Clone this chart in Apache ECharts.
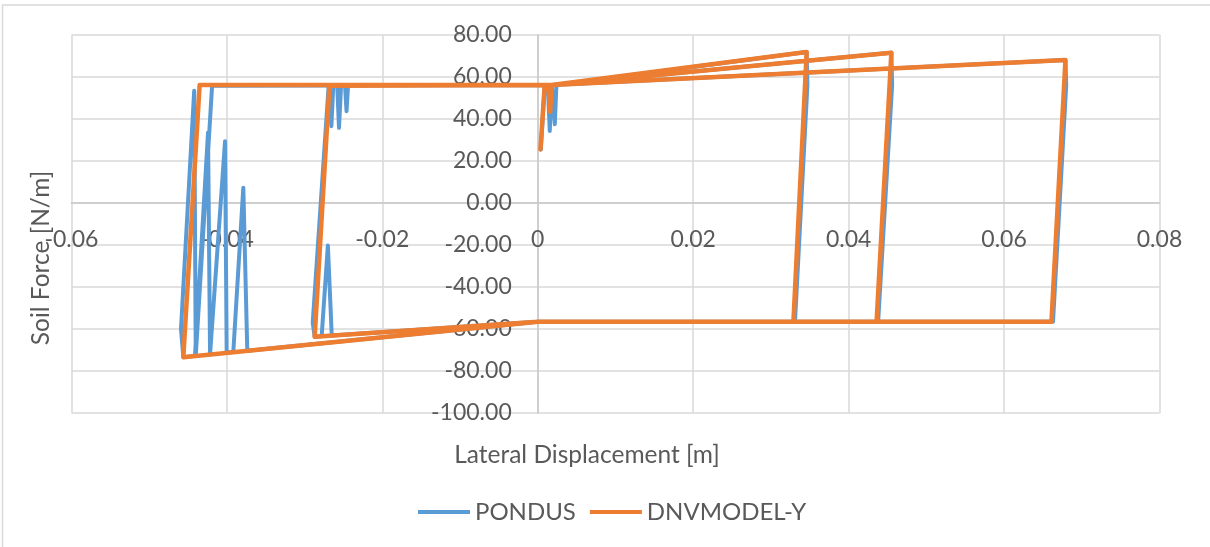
<!DOCTYPE html>
<html>
<head>
<meta charset="utf-8">
<script src="https://cdn.jsdelivr.net/npm/echarts@6.0.0/dist/echarts.min.js"></script>
<style>
    html, body { margin: 0; padding: 0; background: #fff; }
    #chart { width: 1210px; height: 547px; }
</style>
</head>
<body>
<div id="chart"></div>
<script>
    // PONDUS path (lateral displacement [m], soil force [N/m])
    var pondusX = [0.0004, 0.0009, 0.0013, 0.00155, 0.0018, 0.0020, 0.0022, 0.0024, 0.0346, 0.0347, 0.0331, 0.0000,
        -0.0265, -0.0270, -0.0278, -0.0287, -0.02895, -0.0269, -0.0268, -0.02655, -0.0263, -0.0258, -0.02557, -0.0253,
        -0.0248, -0.0246, -0.0244, 0.0018, 0.0455, 0.0456, 0.0438, 0.0000,
        -0.03737, -0.03788, -0.03917, -0.04002, -0.04023, -0.04216, -0.04242, -0.0441, -0.0456, -0.0459, -0.0442,
        -0.0440, -0.0419, -0.0417, 0.0018, 0.0679, 0.0680, 0.0663, 0.0000];
    var pondusF = [25.5, 56.2, 56.2, 34.3, 56.2, 56.2, 37.5, 56.2, 71.9, 56.2, -56.5, -56.5,
        -63.15, -20.2, -63.45, -63.7, -57.0, 56.0, 56.2, 36.6, 56.2, 56.2, 35.8, 56.2,
        56.2, 43.7, 56.2, 56.2, 71.6, 56.2, -56.5, -56.5,
        -70.35, 7.3, -71.0, -71.3, 29.4, -72.1, 33.6, -72.8, -73.4, -60.0, 53.5,
        -72.8, 55.8, 56.2, 56.2, 68.1, 56.2, -56.5, -56.5];

    // DNVMODEL-Y path
    var dnvX = [0.00035, 0.0009, 0.0014, 0.0016, 0.0018, 0.0346, 0.0329, 0.0000, -0.0287, -0.0268, 0.0018,
        0.0455, 0.0436, 0.0000, -0.0456, -0.0435, 0.0018, 0.0679, 0.0661, 0.0000];
    var dnvF = [25.5, 56.2, 56.2, 43.4, 56.2, 71.9, -56.5, -56.5, -63.7, 55.8, 56.2,
        71.6, -56.5, -56.5, -73.4, 56.2, 56.2, 68.1, -56.5, -56.5];

    var seriesNames = ['PONDUS', 'DNVMODEL-Y'];

    function pairs(xs, ys) {
        return xs.map(function (x, i) { return [x, ys[i]]; });
    }

    var font = 'Lato';
    var textColor = '#595959';
    var chart = echarts.init(document.getElementById('chart'), null, {renderer: 'canvas'});

    // plot box in pixels; axes are shifted onto the zero lines with offset
    var plotLeft = 71.4, plotRight = 1159.5, plotTop = 35, plotBottom = 413;
    var zeroX = plotLeft + (plotRight - plotLeft) * 0.06 / 0.14;
    var zeroY = plotTop + (plotBottom - plotTop) * 80 / 180;

    var option = {
        animation: false,
        color: ['#5b9bd5', '#ed7d31'],
        grid: {
            left: plotLeft,
            right: 1210 - plotRight,
            top: plotTop,
            bottom: 547 - plotBottom,
            outerBoundsMode: 'none',
            containLabel: false
        },
        legend: {
            data: seriesNames,
            left: 413,
            top: 495,
            icon: 'rect',
            itemWidth: 52,
            itemHeight: 4,
            itemGap: 14,
            textStyle: { fontFamily: font, fontSize: 24, color: textColor }
        },
        graphic: [
            {
                type: 'rect',
                shape: { x: 2.5, y: 5, width: 1300, height: 600 },
                style: { fill: 'none', stroke: '#d9d9d9', lineWidth: 1.5 },
                silent: true
            },
            {
                type: 'text',
                x: 41, y: 258,
                rotation: Math.PI / 2,
                style: {
                    text: 'Soil Force [N/m]',
                    fontFamily: font, fontSize: 24.5, fill: textColor,
                    align: 'center', verticalAlign: 'middle'
                }
            },
            {
                type: 'text',
                x: 587, y: 455,
                style: {
                    text: 'Lateral Displacement [m]',
                    fontFamily: font, fontSize: 24.5, fill: textColor,
                    align: 'center', verticalAlign: 'middle'
                }
            }
        ],
        xAxis: {
            type: 'value',
            min: -0.06,
            max: 0.08,
            interval: 0.02,
            position: 'bottom',
            offset: -(plotBottom - zeroY),
            axisLine: { show: true, onZero: false, lineStyle: { color: '#c9c9c9', width: 1.5 } },
            axisTick: { show: false },
            splitLine: { show: true, lineStyle: { color: '#d9d9d9', width: 1.5 } },
            axisLabel: {
                margin: 25,
                fontFamily: font, fontSize: 23, color: textColor,
                formatter: function (v) { return Math.abs(v) < 1e-9 ? '0' : v.toFixed(2); }
            }
        },
        yAxis: {
            type: 'value',
            min: -100,
            max: 80,
            interval: 20,
            position: 'left',
            offset: -(zeroX - plotLeft),
            axisLine: { show: true, onZero: false, lineStyle: { color: '#c9c9c9', width: 1.5 } },
            axisTick: { show: false },
            splitLine: { show: true, lineStyle: { color: '#d9d9d9', width: 1.5 } },
            axisLabel: {
                margin: 26,
                fontFamily: font, fontSize: 23, color: textColor,
                formatter: function (v) { return v.toFixed(2); }
            }
        },
        series: [
            {
                name: seriesNames[0],
                type: 'line',
                showSymbol: false,
                lineStyle: { width: 4, join: 'round', cap: 'round' },
                data: pairs(pondusX, pondusF)
            },
            {
                name: seriesNames[1],
                type: 'line',
                showSymbol: false,
                lineStyle: { width: 4.5, join: 'round', cap: 'round' },
                data: pairs(dnvX, dnvF)
            }
        ]
    };

    chart.setOption(option);
</script>
</body>
</html>
